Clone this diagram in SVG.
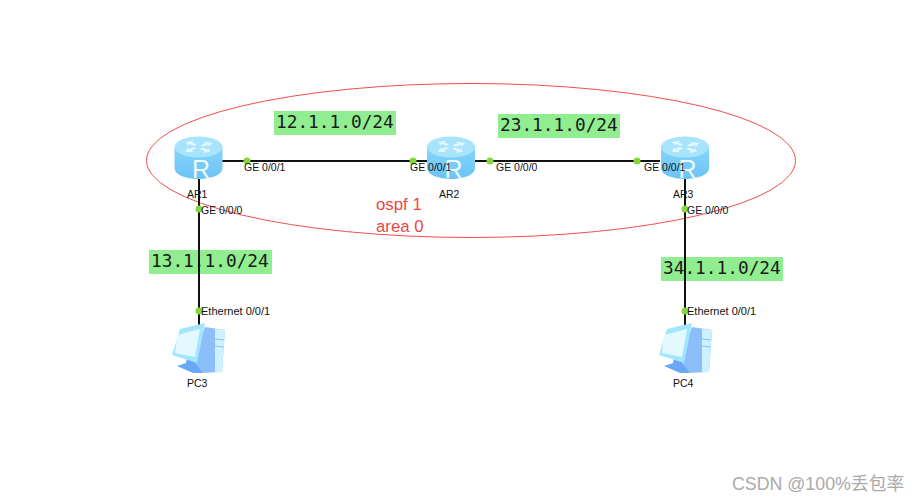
<svg xmlns="http://www.w3.org/2000/svg" width="921" height="502" viewBox="0 0 921 502">
<style>
.lbl{font-family:"Liberation Sans",Arial,sans-serif;font-size:10.500px;fill:#111}
.eth{font-family:"Liberation Sans",Arial,sans-serif;font-size:11px;fill:#111}
.net{font-family:"DejaVu Sans Mono","Liberation Mono",monospace;font-size:17.800px;fill:#1a1a1a}
.hl{fill:#90ee90}
.ospf{font-family:"Liberation Sans",Arial,sans-serif;font-size:16.800px;fill:#f04545}
.link{stroke:#111;stroke-width:2;fill:none}
.dot{fill:#86d63a}
</style>
<defs>
<linearGradient id="rb" x1="0" y1="0" x2="0" y2="1"><stop offset="0" stop-color="#86d6fb"/><stop offset="1" stop-color="#6cc3f5"/></linearGradient>
<g id="router">
<path d="M-24,-11 V10 C-24,17 -12,21 0,21 C12,21 24,17 24,10 V-11 Z" fill="url(#rb)"/>
<ellipse cx="0" cy="-11" rx="24" ry="10.500" fill="#a8e5fd"/>
<path d="M-13,-16 L-5,-17.500 L-6.500,-15.500 L-2,-13.500 L-4.500,-12 L-9,-14 L-10,-12.500 Z M12,-6.500 L5,-5 L6,-7 L1,-9 L4,-10.500 L9,-8.500 L10,-10 Z M-13,-6 L-11,-10 L-9,-9 L-5,-11 L-2,-9.500 L-7,-7.500 L-5,-6 Z M14,-15 L11,-11.500 L9.500,-13 L5,-11.500 L2,-13 L7,-15 L5,-16.500 Z" fill="#e2f7ff"/>
<text x="2.500" y="20" text-anchor="middle" font-family="'Liberation Sans',Arial,sans-serif" font-size="25" fill="#eefbff">R</text>
</g>
<g id="pc">
<path d="M8,-22 L28,-19 L25,23 L3,24 L-5,10 Z" fill="#8cbefa"/>
<path d="M18,-20 L28,-19 L25,23 L18,23 Z" fill="#cdf1fe"/>
<path d="M18,-10 L27,-9 M18,-3 L26.500,-2" stroke="#8fc1fb" stroke-width="1"/>
<path d="M-20,17 L-11,14 L-10,8 L-2,9 L-2,14 L6,24 L-4,24 Z" fill="#6aa8f6"/>
<path d="M-17,-20 L8,-26 L0,14 L-25,6 Z" fill="#a2e6fd"/>
<path d="M-20,-14 L3,-20 L-2,8 L-22,4 Z" fill="#e3f9ff"/>
</g>
</defs>
<ellipse cx="471" cy="160.500" rx="324.500" ry="77" fill="none" stroke="#f05050" stroke-width="1"/>
<g id="connectors">
<path class="link" d="M198,161 H660"/>
<path class="link" d="M199,161 V326"/>
<path class="link" d="M685,161 V326"/>
</g>
<g id="AR1"><use href="#router" x="198.500" y="158"/><text class="lbl" x="187" y="198">AR1</text></g>
<g id="AR2"><use href="#router" x="451" y="158"/><text class="lbl" x="439" y="198">AR2</text></g>
<g id="AR3"><use href="#router" x="685" y="158"/><text class="lbl" x="673" y="198">AR3</text></g>
<g id="PC3"><use href="#pc" x="197" y="349"/><text class="lbl" x="187" y="387">PC3</text></g>
<g id="PC4"><use href="#pc" x="684" y="349"/><text class="lbl" x="673" y="387">PC4</text></g>
<g id="ports">
<circle class="dot" cx="247" cy="161" r="3.500"/><text class="lbl" x="244" y="171">GE 0/0/1</text>
<circle class="dot" cx="413" cy="161" r="3.500"/><text class="lbl" x="410" y="171">GE 0/0/1</text>
<circle class="dot" cx="490" cy="161" r="3.500"/><text class="lbl" x="496" y="171">GE 0/0/0</text>
<circle class="dot" cx="637" cy="161" r="3.500"/><text class="lbl" x="644" y="171">GE 0/0/1</text>
<circle class="dot" cx="199" cy="209" r="3.500"/><text class="lbl" x="201" y="214">GE 0/0/0</text>
<circle class="dot" cx="685" cy="209" r="3.500"/><text class="lbl" x="687" y="214">GE 0/0/0</text>
<circle class="dot" cx="199" cy="311" r="3.500"/><text class="eth" x="201" y="315">Ethernet 0/0/1</text>
<circle class="dot" cx="685" cy="311" r="3.500"/><text class="eth" x="687" y="315">Ethernet 0/0/1</text>
</g>
<g id="networks">
<rect class="hl" x="274" y="111" width="122" height="24"/><text class="net" x="276" y="128">12.1.1.0/24</text>
<rect class="hl" x="498" y="114" width="122" height="24"/><text class="net" x="500" y="131">23.1.1.0/24</text>
<rect class="hl" x="149" y="250" width="123" height="24"/><text class="net" x="151" y="267">13.1.1.0/24</text>
<rect class="hl" x="661" y="257" width="122" height="24"/><text class="net" x="663" y="274">34.1.1.0/24</text>
</g>
<path class="link" d="M199,250 V274 M685,257 V281"/>
<text class="ospf" x="376" y="210">ospf 1</text>
<text class="ospf" x="376" y="232">area 0</text>
<text x="732" y="490" font-family="'Liberation Sans','Noto Sans CJK SC',sans-serif" font-size="17.800" fill="#aaa">CSDN @100%丢包率</text>
</svg>
